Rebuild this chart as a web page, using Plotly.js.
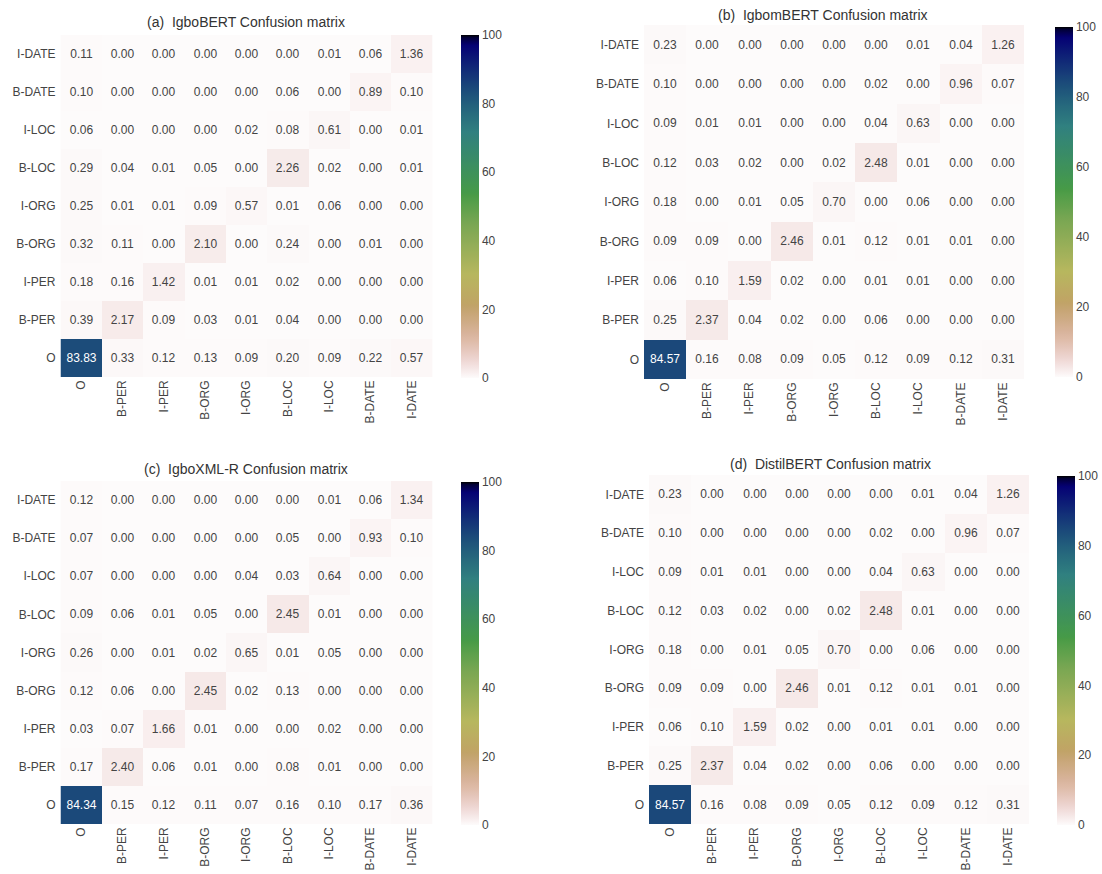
<!DOCTYPE html>
<html><head><meta charset="utf-8">
<script src="https://cdn.plot.ly/plotly-3.0.1.min.js"></script>
<style>html,body{margin:0;padding:0;background:#fff}#chart{width:1102px;height:874px}</style>
</head><body><div id="chart"></div>
<script>
// ---- data ----
const colLabels = ['O','B-PER','I-PER','B-ORG','I-ORG','B-LOC','I-LOC','B-DATE','I-DATE'];
const rowLabels = ['I-DATE','B-DATE','I-LOC','B-LOC','I-ORG','B-ORG','I-PER','B-PER','O'];
const titles = ['(a)\u00a0 IgboBERT Confusion matrix','(b)\u00a0 IgbomBERT Confusion matrix','(c)\u00a0 IgboXML-R Confusion matrix','(d)\u00a0 DistilBERT Confusion matrix'];
const igboBERT = [
 [0.11,0.00,0.00,0.00,0.00,0.00,0.01,0.06,1.36],
 [0.10,0.00,0.00,0.00,0.00,0.06,0.00,0.89,0.10],
 [0.06,0.00,0.00,0.00,0.02,0.08,0.61,0.00,0.01],
 [0.29,0.04,0.01,0.05,0.00,2.26,0.02,0.00,0.01],
 [0.25,0.01,0.01,0.09,0.57,0.01,0.06,0.00,0.00],
 [0.32,0.11,0.00,2.10,0.00,0.24,0.00,0.01,0.00],
 [0.18,0.16,1.42,0.01,0.01,0.02,0.00,0.00,0.00],
 [0.39,2.17,0.09,0.03,0.01,0.04,0.00,0.00,0.00],
 [83.83,0.33,0.12,0.13,0.09,0.20,0.09,0.22,0.57]];
const igbomBERT = [
 [0.23,0.00,0.00,0.00,0.00,0.00,0.01,0.04,1.26],
 [0.10,0.00,0.00,0.00,0.00,0.02,0.00,0.96,0.07],
 [0.09,0.01,0.01,0.00,0.00,0.04,0.63,0.00,0.00],
 [0.12,0.03,0.02,0.00,0.02,2.48,0.01,0.00,0.00],
 [0.18,0.00,0.01,0.05,0.70,0.00,0.06,0.00,0.00],
 [0.09,0.09,0.00,2.46,0.01,0.12,0.01,0.01,0.00],
 [0.06,0.10,1.59,0.02,0.00,0.01,0.01,0.00,0.00],
 [0.25,2.37,0.04,0.02,0.00,0.06,0.00,0.00,0.00],
 [84.57,0.16,0.08,0.09,0.05,0.12,0.09,0.12,0.31]];
const igboXLMR = [
 [0.12,0.00,0.00,0.00,0.00,0.00,0.01,0.06,1.34],
 [0.07,0.00,0.00,0.00,0.00,0.05,0.00,0.93,0.10],
 [0.07,0.00,0.00,0.00,0.04,0.03,0.64,0.00,0.00],
 [0.09,0.06,0.01,0.05,0.00,2.45,0.01,0.00,0.00],
 [0.26,0.00,0.01,0.02,0.65,0.01,0.05,0.00,0.00],
 [0.12,0.06,0.00,2.45,0.02,0.13,0.00,0.00,0.00],
 [0.03,0.07,1.66,0.01,0.00,0.00,0.02,0.00,0.00],
 [0.17,2.40,0.06,0.01,0.00,0.08,0.01,0.00,0.00],
 [84.34,0.15,0.12,0.11,0.07,0.16,0.10,0.17,0.36]];
const distilBERT = [
 [0.23,0.00,0.00,0.00,0.00,0.00,0.01,0.04,1.26],
 [0.10,0.00,0.00,0.00,0.00,0.02,0.00,0.96,0.07],
 [0.09,0.01,0.01,0.00,0.00,0.04,0.63,0.00,0.00],
 [0.12,0.03,0.02,0.00,0.02,2.48,0.01,0.00,0.00],
 [0.18,0.00,0.01,0.05,0.70,0.00,0.06,0.00,0.00],
 [0.09,0.09,0.00,2.46,0.01,0.12,0.01,0.01,0.00],
 [0.06,0.10,1.59,0.02,0.00,0.01,0.01,0.00,0.00],
 [0.25,2.37,0.04,0.02,0.00,0.06,0.00,0.00,0.00],
 [84.57,0.16,0.08,0.09,0.05,0.12,0.09,0.12,0.31]];
const cbTicks = [0,20,40,60,80,100];

// ---- gist_earth_r colorscale ----
const seg = {
 r:[[0,0],[0.2824,0.1882],[0.4588,0.2714],[0.5490,0.4719],[0.6980,0.7176],[0.7882,0.7553],[1,0.9922]],
 g:[[0,0],[0.0275,0],[0.1098,0.1893],[0.1647,0.3035],[0.2078,0.3841],[0.2824,0.5020],[0.5216,0.6397],[0.6980,0.7171],[0.7882,0.6392],[0.7922,0.6413],[0.8,0.6447],[0.8078,0.6481],[0.8157,0.6549],[0.8667,0.6991],[0.8745,0.7103],[0.8824,0.7216],[0.8902,0.7323],[0.8980,0.7430],[0.9412,0.8275],[0.9569,0.8635],[0.9647,0.8816],[0.9961,0.9733],[1,0.9843]],
 b:[[0,0],[0.0039,0.1684],[0.0078,0.2212],[0.0275,0.4329],[0.0314,0.4549],[0.2824,0.5004],[0.4667,0.2748],[0.5451,0.3205],[0.7843,0.3961],[0.8941,0.6651],[1,0.9843]]
};
function interp(pts,t){for(let i=1;i<pts.length;i++){if(t<=pts[i][0]){const a=pts[i-1],b=pts[i];const f=(t-a[0])/(b[0]-a[0]||1);return a[1]+f*(b[1]-a[1]);}}return pts[pts.length-1][1];}
const cs=[];const N=128;
for(let i=0;i<=N;i++){const p=i/N;const t=1-p;
 cs.push([p,'rgb('+Math.round(255*interp(seg.r,t))+','+Math.round(255*interp(seg.g,t))+','+Math.round(255*interp(seg.b,t))+')']);}

// ---- layout geometry ----
const W=1102,H=874;
const panels=[
 {z:igboBERT, x0:60.5,x1:432.5,y0:35,y1:377, cbx:461,cby0:35,cby1:378, tx:246,ty:22},
 {z:igbomBERT,x0:644,x1:1024,y0:25,y1:379, cbx:1055,cby0:27,cby1:377, tx:823,ty:15},
 {z:igboXLMR, x0:60.5,x1:432.5,y0:481,y1:824, cbx:461,cby0:482,cby1:825, tx:246,ty:469},
 {z:distilBERT,x0:649,x1:1029,y0:475,y1:824, cbx:1057,cby0:476,cby1:825, tx:830,ty:464}
];
const font='"Liberation Sans", Arial, sans-serif';
const data=[];const layout={width:W,height:H,margin:{l:0,r:0,t:0,b:0},paper_bgcolor:'#fff',plot_bgcolor:'#fff',showlegend:false,annotations:[],font:{family:font,color:'#444',size:12}};
panels.forEach((p,i)=>{
 const k=i===0?'':String(i+1);
 data.push({type:'heatmap',z:p.z,x:colLabels,y:rowLabels,xaxis:'x'+k,yaxis:'y'+k,
  colorscale:cs,zmin:0,zmax:100,xgap:0,ygap:0,
  texttemplate:'%{z:.2f}',textfont:{family:font,size:12},hoverinfo:'skip',
  colorbar:{x:p.cbx/W,xanchor:'left',y:1-(p.cby0+p.cby1)/2/H,yanchor:'middle',len:(p.cby1-p.cby0),lenmode:'pixels',
   thickness:18,thicknessmode:'pixels',outlinewidth:0,tickvals:cbTicks,ticks:'',tickfont:{family:font,size:12,color:'#444'},ypad:0,xpad:0}
 });
 layout['xaxis'+k]={domain:[p.x0/W,p.x1/W],anchor:'y'+k,tickangle:-90,ticks:'',showgrid:false,zeroline:false,showline:false,tickfont:{family:font,size:12,color:'#444'},fixedrange:true};
 layout['yaxis'+k]={domain:[1-p.y1/H,1-p.y0/H],anchor:'x'+k,autorange:'reversed',ticks:'',showgrid:false,zeroline:false,showline:false,ticklabelstandoff:4,tickfont:{family:font,size:12,color:'#444'},fixedrange:true};
 layout.annotations.push({text:titles[i],xref:'paper',yref:'paper',x:p.tx/W,y:1-p.ty/H,xanchor:'center',yanchor:'middle',showarrow:false,font:{family:font,size:14,color:'#333'}});
});
Plotly.newPlot('chart',data,layout,{staticPlot:true,displayModeBar:false});
</script></body></html>
